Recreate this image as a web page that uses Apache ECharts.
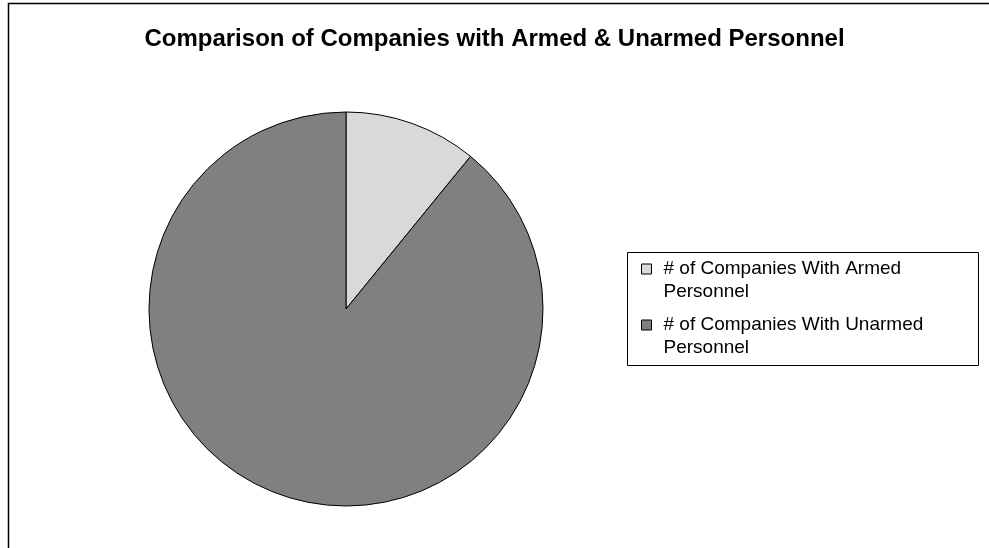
<!DOCTYPE html>
<html>
<head>
<meta charset="utf-8">
<script src="https://cdn.jsdelivr.net/npm/echarts@6/dist/echarts.min.js"></script>
<style>
html, body { margin: 0; padding: 0; background: #fff; }
#main { width: 989px; height: 548px; }
</style>
</head>
<body>
<div id="main"></div>
<script>
var titleText = 'Comparison of Companies with Armed & Unarmed Personnel';
var names = ['# of Companies With Armed Personnel', '# of Companies With Unarmed Personnel'];
var values = [11, 90];
var colors = ['#d9d9d9', '#808080'];

var myChart = echarts.init(document.getElementById('main'));

var data = [];
for (var i = 0; i < names.length; i++) {
	data.push({
		name: names[i],
		value: values[i],
		itemStyle: { color: colors[i] }
	});
}

// 图例文字换行, 首行留空让色块对齐第一行
function wrapName(name) {
	return ' \n' + name.replace(' Personnel', '\nPersonnel');
}

var option = {
	animation: false,
	backgroundColor: '#fff',
	title: {
		text: titleText,
		left: 'center',
		top: 22,
		textStyle: {
			fontFamily: 'Liberation Sans',
			fontSize: 24,
			fontWeight: 'bold',
			color: '#000'
		}
	},
	legend: {
		orient: 'vertical',
		left: 641,
		top: 234.5,
		padding: 0,
		itemGap: -13,
		itemWidth: 10,
		itemHeight: 10,
		icon: 'rect',
		data: names,
		formatter: wrapName,
		itemStyle: { borderColor: '#000', borderWidth: 1 },
		textStyle: {
			fontFamily: 'Liberation Sans',
			fontSize: 19,
			lineHeight: 23,
			color: '#000',
			padding: [0, 0, 0, 7]
		},
		selectedMode: false
	},
	graphic: [{
		type: 'rect',
		shape: { x: 8.5, y: 3.5, width: 1100, height: 700 },
		style: { fill: 'none', stroke: '#000', lineWidth: 1.5 },
		silent: true
	}, {
		type: 'rect',
		shape: { x: 627.5, y: 252.5, width: 351, height: 113 },
		style: { fill: 'none', stroke: '#000', lineWidth: 1 },
		silent: true
	}],
	series: [{
		type: 'pie',
		center: [346, 309],
		radius: 197,
		startAngle: 90,
		clockwise: true,
		data: data,
		label: { show: false },
		labelLine: { show: false },
		itemStyle: { borderColor: '#000', borderWidth: 1 },
		emphasis: { disabled: true }
	}]
};
myChart.setOption(option);
</script>
</body>
</html>
